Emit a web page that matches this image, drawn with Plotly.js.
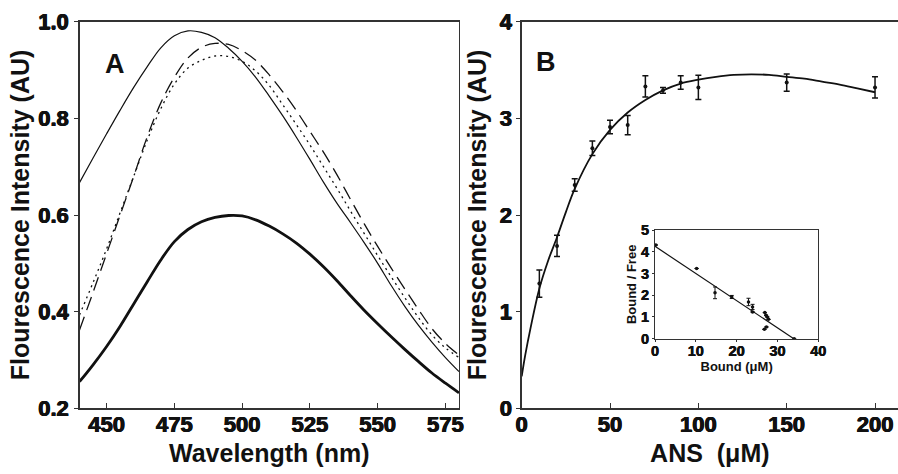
<!DOCTYPE html>
<html>
<head>
<meta charset="utf-8">
<script src="https://cdn.plot.ly/plotly-3.0.1.min.js"></script>
<style>html,body{margin:0;padding:0;background:#fff;}#chart{width:898px;height:474px;}</style>
</head>
<body>
<div id="chart"></div>
<script>
// ---------- Panel A: emission spectra ----------
const wavelength = [440,445,450,455,460,465,470,475,480,485,490,495,500,505,510,515,520,525,530,535,540,545,550,555,560,565,570,575,580];
const spectrumThin = [0.667,0.718,0.768,0.817,0.864,0.907,0.946,0.971,0.981,0.978,0.967,0.945,0.918,0.885,0.846,0.805,0.761,0.715,0.668,0.624,0.584,0.543,0.5,0.454,0.411,0.372,0.337,0.305,0.276];
const spectrumLongDash = [0.362,0.44,0.52,0.6,0.68,0.762,0.832,0.885,0.925,0.947,0.955,0.953,0.94,0.92,0.89,0.855,0.816,0.773,0.73,0.683,0.632,0.582,0.535,0.49,0.447,0.405,0.365,0.334,0.31];
const spectrumDotted = [0.393,0.46,0.53,0.605,0.68,0.755,0.82,0.871,0.904,0.92,0.929,0.928,0.918,0.898,0.868,0.828,0.787,0.745,0.70,0.655,0.608,0.562,0.516,0.472,0.429,0.388,0.352,0.325,0.305];
const spectrumThick = [0.255,0.29,0.328,0.37,0.416,0.462,0.507,0.545,0.57,0.586,0.595,0.599,0.598,0.59,0.577,0.561,0.542,0.519,0.493,0.464,0.433,0.403,0.375,0.348,0.322,0.297,0.273,0.252,0.232];
const wlTicks = [450,475,500,525,550,575];
const wlTickLabels = ['450','475','500','525','550','575'];
const intATicks = [0.2,0.4,0.6,0.8,1.0];
const intATickLabels = ['0.2','0.4','0.6','0.8','1.0'];

// ---------- Panel B: titration ----------
const ansConc = [10,20,30,40,50,60,70,80,90,100,150,200];
const ansIntensity = [1.29,1.68,2.31,2.69,2.91,2.93,3.33,3.29,3.37,3.32,3.37,3.32];
const ansError = [0.14,0.11,0.065,0.075,0.07,0.10,0.11,0.03,0.07,0.125,0.09,0.11];
const fitConc = [0,2,5,10,15,20,25,30,40,50,60,70,80,90,100,110,120,130,140,150,160,170,180,190,200];
const fitIntensity = [0.33,0.55,0.83,1.24,1.53,1.77,2.03,2.27,2.63,2.88,3.06,3.19,3.29,3.36,3.40,3.43,3.45,3.455,3.45,3.43,3.41,3.38,3.35,3.31,3.27];
const ansTicks = [0,50,100,150,200];
const ansTickLabels = ['0','50','100','150','200'];
const intBTicks = [0,1,2,3,4];
const intBTickLabels = ['0','1','2','3','4'];

// ---------- Inset: Scatchard ----------
const boundConc = [0.2,10.2,14.7,18.8,22.9,23.9,23.9,26.9,27.2,27.5,27.8,26.8,27.3,34.1];
const boundFree = [4.31,3.23,2.11,1.92,1.69,1.46,1.23,1.2,1.08,1.0,0.89,0.43,0.54,0];
const boundFreeErr = [0,0,0.27,0.07,0.17,0.12,0,0,0,0,0,0,0,0];
const scatLineX = [0,34];
const scatLineY = [4.25,0];
const boundTicks = [0,10,20,30,40];
const boundTickLabels = ['0','10','20','30','40'];
const ratioTicks = [0,1,2,3,4,5];
const ratioTickLabels = ['0','1','2','3','4','5'];

const FAM = 'Liberation Sans, Arial, Helvetica, sans-serif';
const INK = '#111';
const AX = '#333';
const bold = arr => arr.map(s => '<b>' + s + '</b>');
const THICKEN = '0.5px 0 0 #111, -0.5px 0 0 #111, 0 0.4px 0 #111';

const traces = [
  {x: wavelength, y: spectrumThin, mode:'lines', line:{color:INK, width:1.2, shape:'spline'}, xaxis:'x', yaxis:'y'},
  {x: wavelength, y: spectrumLongDash, mode:'lines', line:{color:INK, width:1.3, dash:'14px,7px', shape:'spline'}, xaxis:'x', yaxis:'y'},
  {x: wavelength, y: spectrumDotted, mode:'lines', line:{color:INK, width:1.3, dash:'2px,4px', shape:'spline'}, xaxis:'x', yaxis:'y'},
  {x: wavelength, y: spectrumThick, mode:'lines', line:{color:INK, width:2.8, shape:'spline'}, xaxis:'x', yaxis:'y'},
  {x: fitConc, y: fitIntensity, mode:'lines', line:{color:INK, width:1.8, shape:'spline'}, xaxis:'x2', yaxis:'y2'},
  {x: ansConc, y: ansIntensity, mode:'markers', marker:{color:INK, size:4},
   error_y:{type:'data', array: ansError, visible:true, thickness:1.5, width:3, color:INK}, xaxis:'x2', yaxis:'y2'},
  {x: scatLineX, y: scatLineY, mode:'lines', line:{color:INK, width:1.2}, xaxis:'x3', yaxis:'y3'},
  {x: boundConc, y: boundFree, mode:'markers', marker:{color:INK, size:3.5},
   error_y:{type:'data', array: boundFreeErr, visible:true, thickness:1, width:2, color:INK}, xaxis:'x3', yaxis:'y3'}
];

const tickFont = {family:FAM, size:22, color:INK, weight:'bold', shadow:THICKEN};
const titleFont = {family:FAM, size:25, color:INK, weight:'bold'};
const smallTick = {family:FAM, size:14.5, color:INK, weight:'bold', shadow:'0.3px 0 0 #111, -0.3px 0 0 #111'};
const smallTitle = {family:FAM, size:13, color:INK, weight:'bold'};

const layout = {
  width:898, height:474,
  margin:{l:0, r:0, t:0, b:0},
  paper_bgcolor:'#fff', plot_bgcolor:'rgba(0,0,0,0)',
  showlegend:false,
  xaxis:{domain:[79.5/898, 459/898], range:[440,580], tickvals:wlTicks, ticktext:bold(wlTickLabels), ticks:'inside', ticklen:5, tickcolor:AX,
    showline:true, linecolor:AX, linewidth:1.3, mirror:true, showgrid:false, zeroline:false,
    tickfont:tickFont, ticklabelstandoff:-4, automargin:false, anchor:'y',
    title:{text:'<b>Wavelength (nm)</b>', font:titleFont, standoff:8}},
  yaxis:{domain:[1-408.3/474, 1-21.7/474], range:[0.2,1.0], tickvals:intATicks, ticktext:bold(intATickLabels), ticks:'outside', ticklen:4, tickcolor:AX,
    showline:true, linecolor:AX, linewidth:1.3, mirror:true, showgrid:false, zeroline:false,
    tickfont:tickFont, ticklabelstandoff:1, automargin:false, anchor:'x',
    title:{text:'<b>Flourescence Intensity (AU)</b>', font:titleFont, standoff:1}},
  xaxis2:{domain:[521.7/898, 1], range:[0,213], tickvals:ansTicks, ticktext:bold(ansTickLabels), ticks:'inside', ticklen:5, tickcolor:AX,
    showline:true, linecolor:AX, linewidth:1.3, mirror:true, showgrid:false, zeroline:false,
    tickfont:tickFont, ticklabelstandoff:-4, automargin:false, anchor:'y2',
    title:{text:'<b>ANS\u00a0 (μM)</b>', font:titleFont, standoff:8}},
  yaxis2:{domain:[1-408.3/474, 1-21.7/474], range:[0,4], tickvals:intBTicks, ticktext:bold(intBTickLabels), ticks:'outside', ticklen:4, tickcolor:AX,
    showline:true, linecolor:AX, linewidth:1.3, mirror:false, showgrid:false, zeroline:false,
    tickfont:tickFont, automargin:false, anchor:'x2',
    title:{text:'<b>Flourescence Intensity (AU)</b>', font:titleFont, standoff:6}},
  xaxis3:{domain:[655/898, 818.3/898], range:[0,40], tickvals:boundTicks, ticktext:bold(boundTickLabels), ticks:'outside', ticklen:2, tickcolor:AX,
    showline:true, linecolor:AX, linewidth:1, mirror:true, showgrid:false, zeroline:false,
    tickfont:smallTick, ticklabelstandoff:-3, automargin:false, anchor:'y3',
    title:{text:'<b>Bound (μM)</b>', font:smallTitle, standoff:0}},
  yaxis3:{domain:[1-338.7/474, 1-230/474], range:[0,5], tickvals:ratioTicks, ticktext:bold(ratioTickLabels), ticks:'outside', ticklen:2, tickcolor:AX,
    showline:true, linecolor:AX, linewidth:1, mirror:true, showgrid:false, zeroline:false,
    tickfont:smallTick, automargin:false, anchor:'x3',
    title:{text:'<b>Bound / Free</b>', font:smallTitle, standoff:1}},
  annotations:[
    {text:'<b>A</b>', x:103/898, y:1-47/474, xref:'paper', yref:'paper', showarrow:false, font:{family:FAM, size:27, color:INK}},
    {text:'<b>B</b>', x:545.5/898, y:1-45/474, xref:'paper', yref:'paper', showarrow:false, font:{family:FAM, size:27, color:INK}}
  ]
};

Plotly.newPlot('chart', traces, layout, {staticPlot:true, displayModeBar:false});
</script>
</body>
</html>
